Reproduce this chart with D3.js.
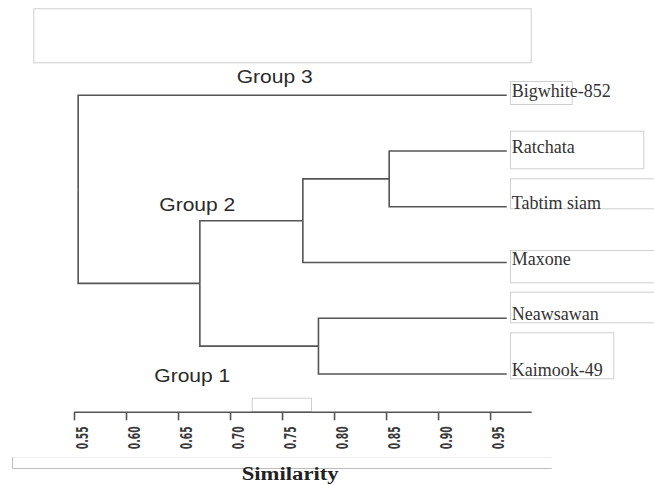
<!DOCTYPE html>
<html lang="en">
<head>
<meta charset="UTF-8">
<title>Similarity dendrogram</title>
<style>
  * { margin: 0; padding: 0; }
  body { background: #fff; }
  svg { display: block; }
  .branch { fill: none; stroke: #555; stroke-width: 1.6px; }
  .leaf-label { font-family: "Liberation Serif", "DejaVu Serif", serif; font-size: 18px; fill: #333; }
  .group-label { font-family: "Liberation Sans", Arial, sans-serif; font-size: 19px; fill: #2a2a2a; }
  .frame { fill: none; stroke: #cfcfcf; stroke-width: 1px; }
  .x-axis path, .x-axis line { stroke: #555; stroke-width: 1.6px; }
  .x-axis text { font-family: "DejaVu Sans", sans-serif; font-weight: bold; font-size: 15px; fill: #3a3a3a; }
  .axis-title { font-family: "Liberation Serif", serif; font-weight: bold; font-size: 18px; fill: #222; }
</style>
</head>
<body>
<div id="chart"></div>

<script src="https://cdn.jsdelivr.net/npm/d3@7/dist/d3.min.js"></script>
<script>
"use strict";

// leaves, top to bottom
var leaves = ["Bigwhite-852", "Ratchata", "Tabtim siam", "Maxone", "Neawsawan", "Kaimook-49"];
var leafSimilarity = 0.966;

// internal nodes: name, children, similarity at which they join
var nodeNames = ["A", "B", "C", "D", "root"];
var nodeChildren = [
    ["Ratchata", "Tabtim siam"],
    ["A", "Maxone"],
    ["Neawsawan", "Kaimook-49"],
    ["B", "C"],
    ["Bigwhite-852", "D"]
];
var nodeSimilarity = [0.853, 0.770, 0.785, 0.671, 0.554];

var tickValues = [0.55, 0.60, 0.65, 0.70, 0.75, 0.80, 0.85, 0.90, 0.95];
var tickLabels = ["0.55", "0.60", "0.65", "0.70", "0.75", "0.80", "0.85", "0.90", "0.95"];

var groupNames = ["Group 3", "Group 2", "Group 1"];

(function() {

    var width = 654,
        height = 486;

    var svg = d3.select('#chart')
        .append('svg')
        .attr('width', width)
        .attr('height', height);

    var x = d3.scaleLinear()
        .domain([0.55, 0.99])
        .range([74, 531.7]);

    var y = d3.scalePoint()
        .domain(leaves)
        .range([95.3, 374]);

    // build hierarchy from the merge table
    var childrenOf = {};
    var simOf = {};
    nodeNames.forEach(function(n, i) {
        childrenOf[n] = nodeChildren[i];
        simOf[n] = nodeSimilarity[i];
    });
    leaves.forEach(function(l) { simOf[l] = leafSimilarity; });

    var root = d3.hierarchy("root", function(d) { return childrenOf[d]; });

    // leaf y from scale, internal node y = middle of children
    root.eachAfter(function(node) {
        if (node.children) {
            node.py = d3.mean(node.children, function(c) { return c.py; });
        } else {
            node.py = y(node.data);
        }
        node.px = x(simOf[node.data]);
    });

    // pasted text-box outlines from the source figure
    var frames = [
        [33.3, 8.3, 497.4, 54],
        [510, 81, 61.7, 23],
        [510, 130.7, 133.3, 37.6],
        [510, 178.3, 150, 30],
        [510, 250, 150, 32.3],
        [510, 291.7, 150, 30.6],
        [510, 332.3, 103.3, 46],
        [251.7, 397.7, 59.3, 13.3]
    ];

    svg.selectAll('rect.frame')
        .data(frames)
        .enter()
        .append('rect')
        .attr('class', 'frame')
        .attr('x', function(d) { return d[0] + 0.5; })
        .attr('y', function(d) { return d[1] + 0.5; })
        .attr('width', function(d) { return d[2]; })
        .attr('height', function(d) { return d[3]; });

    // bottom strip behind the axis title
    svg.append('path')
        .attr('d', 'M551.7,457.5H12.5V468.5H551.7')
        .attr('fill', 'none')
        .attr('stroke', '#bdbdbd');
    svg.append('line')
        .attr('x1', 13).attr('x2', 551.7)
        .attr('y1', 457.5).attr('y2', 457.5)
        .attr('stroke', '#f0f0f0');

    // elbow branches
    svg.selectAll('path.branch')
        .data(root.links())
        .enter()
        .append('path')
        .attr('class', 'branch')
        .attr('d', function(l) {
            return 'M' + l.source.px + ',' + l.source.py +
                'V' + l.target.py +
                'H' + l.target.px;
        });

    // leaf labels
    svg.selectAll('text.leaf-label')
        .data(root.leaves())
        .enter()
        .append('text')
        .attr('class', 'leaf-label')
        .attr('x', function(d) { return d.px + 5; })
        .attr('y', function(d) { return d.py + 2; })
        .text(function(d) { return d.data; });

    // group annotations
    var groupPos = [[236.7, 83.3], [159.3, 211], [154.3, 381.7]];
    svg.selectAll('text.group-label')
        .data(groupNames)
        .enter()
        .append('text')
        .attr('class', 'group-label')
        .attr('x', function(d, i) { return groupPos[i][0]; })
        .attr('y', function(d, i) { return groupPos[i][1]; })
        .attr('textLength', 76)
        .attr('lengthAdjust', 'spacingAndGlyphs')
        .text(function(d) { return d; });

    // similarity axis
    var axis = d3.axisBottom(x)
        .tickValues(tickValues)
        .tickFormat(function(d, i) { return tickLabels[i]; })
        .tickSizeInner(8)
        .tickSizeOuter(0);

    var gx = svg.append('g')
        .attr('class', 'x-axis')
        .attr('transform', 'translate(0,412.3)')
        .call(axis);

    gx.select('.domain')
        .attr('d', 'M' + x(0.55) + ',0H' + x.range()[1]);

    gx.selectAll('.tick text')
        .attr('transform', 'rotate(-90)')
        .attr('text-anchor', 'end')
        .attr('x', -14)
        .attr('y', 13)
        .attr('dy', 0)
        .attr('textLength', 23)
        .attr('lengthAdjust', 'spacingAndGlyphs');

    svg.append('text')
        .attr('class', 'axis-title')
        .attr('x', 241.7)
        .attr('y', 480)
        .attr('textLength', 97)
        .attr('lengthAdjust', 'spacingAndGlyphs')
        .text('Similarity');

})();
</script>
</body>
</html>
